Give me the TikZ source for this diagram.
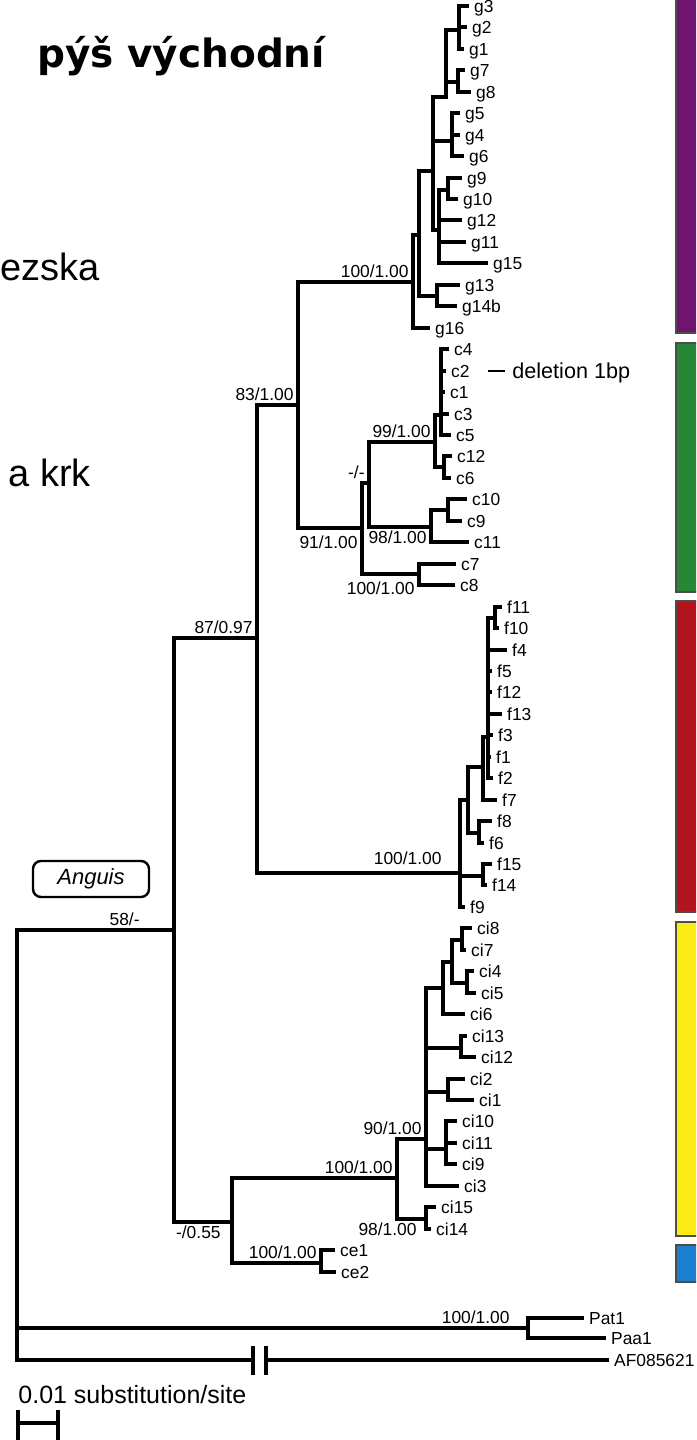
\documentclass[tikz,border=0pt]{standalone}
\usepackage{fontspec}
\setmainfont{Liberation Sans}
\newfontfamily\headfont{DejaVu Sans}
\usepackage{xcolor}
\definecolor{cladepurple}{RGB}{112,20,112}
\definecolor{cladegreen}{RGB}{38,135,55}
\definecolor{cladered}{RGB}{178,20,30}
\definecolor{cladeyellow}{RGB}{250,236,20}
\definecolor{cladeblue}{RGB}{28,128,210}

\begin{document}
\begin{tikzpicture}[x=0.5pt,y=-0.5pt,
  branch/.style={line width=1.7pt, line cap=rect},
  leaf/.style={anchor=west, inner sep=0pt, outer sep=3.6pt, font=\fontsize{8.7}{10}\selectfont, text height=6.2pt, text depth=0pt},
  support/.style={inner sep=2pt, font=\fontsize{8.7}{10}\selectfont, text height=6.2pt, text depth=0pt},
  cladebar/.style={draw=black!70, line width=0.7pt}]
\useasboundingbox (0,0) rectangle (696,1440);
\clip (0,0) rectangle (696,1440);

% Clade colour bars on the right
\filldraw[cladebar, fill=cladepurple] (676,-5) rectangle (705,333);
\filldraw[cladebar, fill=cladegreen] (676,343) rectangle (705,592);
\filldraw[cladebar, fill=cladered] (676,601) rectangle (705,912);
\filldraw[cladebar, fill=cladeyellow] (676,922) rectangle (705,1236);
\filldraw[cladebar, fill=cladeblue] (676,1245) rectangle (705,1282);

% Slide texts on the left
\node[anchor=base west, inner sep=0pt, font=\headfont\bfseries\fontsize{19.5}{23}\selectfont] (title) at (37,67) {pýš východní};
\node[anchor=base west, inner sep=0pt, font=\fontsize{19}{22}\selectfont] (region) at (0,280) {ezska};
\node[anchor=base west, inner sep=0pt, font=\fontsize{19}{22}\selectfont] (neck) at (8,486) {a krk};

% Internal nodes of the tree
\coordinate (root) at (17,930);
\coordinate (nIn) at (174,930);
\coordinate (n87) at (257,638);
\coordinate (n055) at (232,1222);
\coordinate (n83) at (298,405);
\coordinate (nF) at (460,873);
\coordinate (nG) at (413,282);
\coordinate (n91) at (362,528);
\coordinate (nG1) at (419,235);
\coordinate (nG2) at (433,171);
\coordinate (nG13) at (437,296);
\coordinate (nC) at (446,97);
\coordinate (nG546) at (452,141);
\coordinate (nG9) at (439,230);
\coordinate (nG123) at (459,30);
\coordinate (nG78) at (458,82);
\coordinate (nG910) at (448,190);
\coordinate (nDash) at (369,483);
\coordinate (nC78) at (419,574);
\coordinate (n99) at (435,442);
\coordinate (n98) at (431,527);
\coordinate (nCA) at (441,415);
\coordinate (nC126) at (444,467);
\coordinate (nC109) at (448,510);
\coordinate (nF1514) at (483,876);
\coordinate (nFb) at (468,800);
\coordinate (nFc) at (483,767);
\coordinate (nF86) at (479,833);
\coordinate (nFd) at (488,737);
\coordinate (nF1110) at (495,618);
\coordinate (nCI) at (397,1178);
\coordinate (nCE) at (321,1263);
\coordinate (n90) at (426,1139);
\coordinate (nCI1514) at (426,1219);
\coordinate (nCIa) at (443,988);
\coordinate (nCI1312) at (461,1048);
\coordinate (nCI21) at (448,1092);
\coordinate (nCI10) at (446,1149);
\coordinate (nCIb) at (452,962);
\coordinate (nCI87) at (462,940);
\coordinate (nCI45) at (467,983);
\coordinate (nPat) at (528,1328);
\coordinate (brkL) at (253,1360);
\coordinate (brkR) at (266,1360);

% Leaf labels (name/tip/y)
\foreach \n/\x/\y in {g3/467/6, g2/465/27, g1/462/49, g7/463/70, g8/469/92,
    g5/458/113, g4/458/135, g6/462/156, g9/460/178, g10/456/199,
    g12/460/220, g11/464/242, g15/486/263, g13/458/285, g14b/455/306, g16/428/328,
    c4/447/349, c2/444/371, c1/443/392, c3/447/414, c5/449/435,
    c12/450/456, c6/449/478, c10/465/499, c9/460/521, c11/467/542,
    c7/454/564, c8/453/585,
    f11/500/607, f10/497/628, f4/505/650, f5/490/671, f12/490/692,
    f13/500/714, f3/491/735, f1/489/757, f2/491/778, f7/495/800,
    f8/490/821, f6/482/843, f15/490/864, f14/485/885, f9/463/907,
    ci8/470/928, ci7/464/950, ci4/472/971, ci5/474/993, ci6/463/1014,
    ci13/465/1036, ci12/474/1057, ci2/463/1079, ci1/472/1100,
    ci10/455/1121, ci11/455/1143, ci9/455/1164, ci3/457/1186,
    ci15/434/1207, ci14/429/1229, ce1/333/1250, ce2/334/1272,
    Pat1/582/1318, Paa1/604/1338, AF085621/607/1360}
  \node[leaf] (\n) at (\x,\y) {\n};

% Branches between internal nodes
\foreach \p/\c in {root/nIn, root/nPat, nIn/n87, nIn/n055, n87/n83, n87/nF,
    n83/nG, n83/n91, nG/nG1, nG1/nG2, nG1/nG13, nG2/nC, nG2/nG546, nG2/nG9,
    nC/nG123, nC/nG78, nG9/nG910, n91/nDash, n91/nC78, nDash/n99, nDash/n98,
    n99/nCA, n99/nC126, n98/nC109, nF/nF1514, nF/nFb, nFb/nFc, nFb/nF86,
    nFc/nFd, nFd/nF1110, n055/nCI, n055/nCE, nCI/n90, nCI/nCI1514,
    n90/nCIa, n90/nCI1312, n90/nCI21, n90/nCI10, nCIa/nCIb, nCIb/nCI87, nCIb/nCI45}
  \draw[branch] (\p) |- (\c);

% Terminal branches
\foreach \p/\c in {nG123/g3, nG123/g2, nG123/g1, nG78/g7, nG78/g8,
    nG546/g5, nG546/g4, nG546/g6, nG910/g9, nG910/g10, nG9/g12, nG9/g11, nG9/g15,
    nG13/g13, nG13/g14b, nG/g16,
    nCA/c4, nCA/c2, nCA/c1, nCA/c3, nCA/c5, nC126/c12, nC126/c6,
    nC109/c10, nC109/c9, n98/c11, nC78/c7, nC78/c8,
    nF1110/f11, nF1110/f10, nFd/f4, nFd/f5, nFd/f12, nFd/f13, nFd/f3, nFd/f1, nFd/f2,
    nFc/f7, nF86/f8, nF86/f6, nF1514/f15, nF1514/f14, nF/f9,
    nCI87/ci8, nCI87/ci7, nCI45/ci4, nCI45/ci5, nCIa/ci6, nCI1312/ci13, nCI1312/ci12,
    nCI21/ci2, nCI21/ci1, nCI10/ci10, nCI10/ci11, nCI10/ci9, n90/ci3,
    nCI1514/ci15, nCI1514/ci14, nCE/ce1, nCE/ce2, nPat/Pat1, nPat/Paa1}
  \draw[branch] (\p) |- (\c.west);

% Long outgroup branch with a break
\draw[branch] (root) |- (brkL);
\draw[branch] (brkR) -- (AF085621.west);
\draw[branch] (brkL) ++(0,-12) -- ++(0,25);
\draw[branch] (brkR) ++(0,-12) -- ++(0,25);

% Support values
\node[support, above left] (sG) at (nG) {100/1.00};
\node[support, above left] (s83) at (n83) {83/1.00};
\node[support, above left] (s87) at (n87) {87/0.97};
\node[support, below left, yshift=-2pt] (s91) at (n91) {91/1.00};
\node[support, above left] (sDash) at (nDash) {-/-};
\node[support, above left] (s99) at (n99) {99/1.00};
\node[support, below left] (s98) at (n98) {98/1.00};
\node[support, below left, yshift=-2pt] (sC78) at (nC78) {100/1.00};
\node[support, above left, xshift=-7pt, yshift=2pt] (sF) at (nF) {100/1.00};
\node[support, above left, xshift=-15pt] (sIn) at (nIn) {58/-};
\node[support, below left, xshift=-3.5pt] (s055) at (n055) {-/0.55};
\node[support, above left] (sCI) at (nCI) {100/1.00};
\node[support, above left] (s90) at (n90) {90/1.00};
\node[support, below left, xshift=-2.5pt] (sCI1514) at (nCI1514) {98/1.00};
\node[support, above left] (sCE) at (nCE) {100/1.00};
\node[support, above left, xshift=-7pt] (sPat) at (nPat) {100/1.00};

% Annotations
\node[draw, rounded corners=4pt, line width=1.2pt, minimum width=58pt, minimum height=18pt, inner sep=0pt, font=\itshape\fontsize{11}{13}\selectfont] (anguis) at (91,879) {Anguis};
\node[anchor=west, inner sep=0pt, font=\fontsize{10.8}{12}\selectfont, text height=7.7pt, text depth=0pt] (deletion) at (512,371) {deletion 1bp};
\draw[line width=1pt] (deletion.west) ++(-24,0) -- ++(17,0);

% Scale bar
\node[anchor=west, inner sep=0pt, font=\fontsize{12.5}{14}\selectfont] (scalelabel) at (18,1395) {0.01 substitution/site};
\coordinate (sbL) at (18,1423);
\coordinate (sbR) at (58,1423);
\draw[branch] (sbL) -- (sbR);
\draw[branch] (sbL) ++(0,-11) -- ++(0,30);
\draw[branch] (sbR) ++(0,-11) -- ++(0,30);
\end{tikzpicture}
\end{document}
